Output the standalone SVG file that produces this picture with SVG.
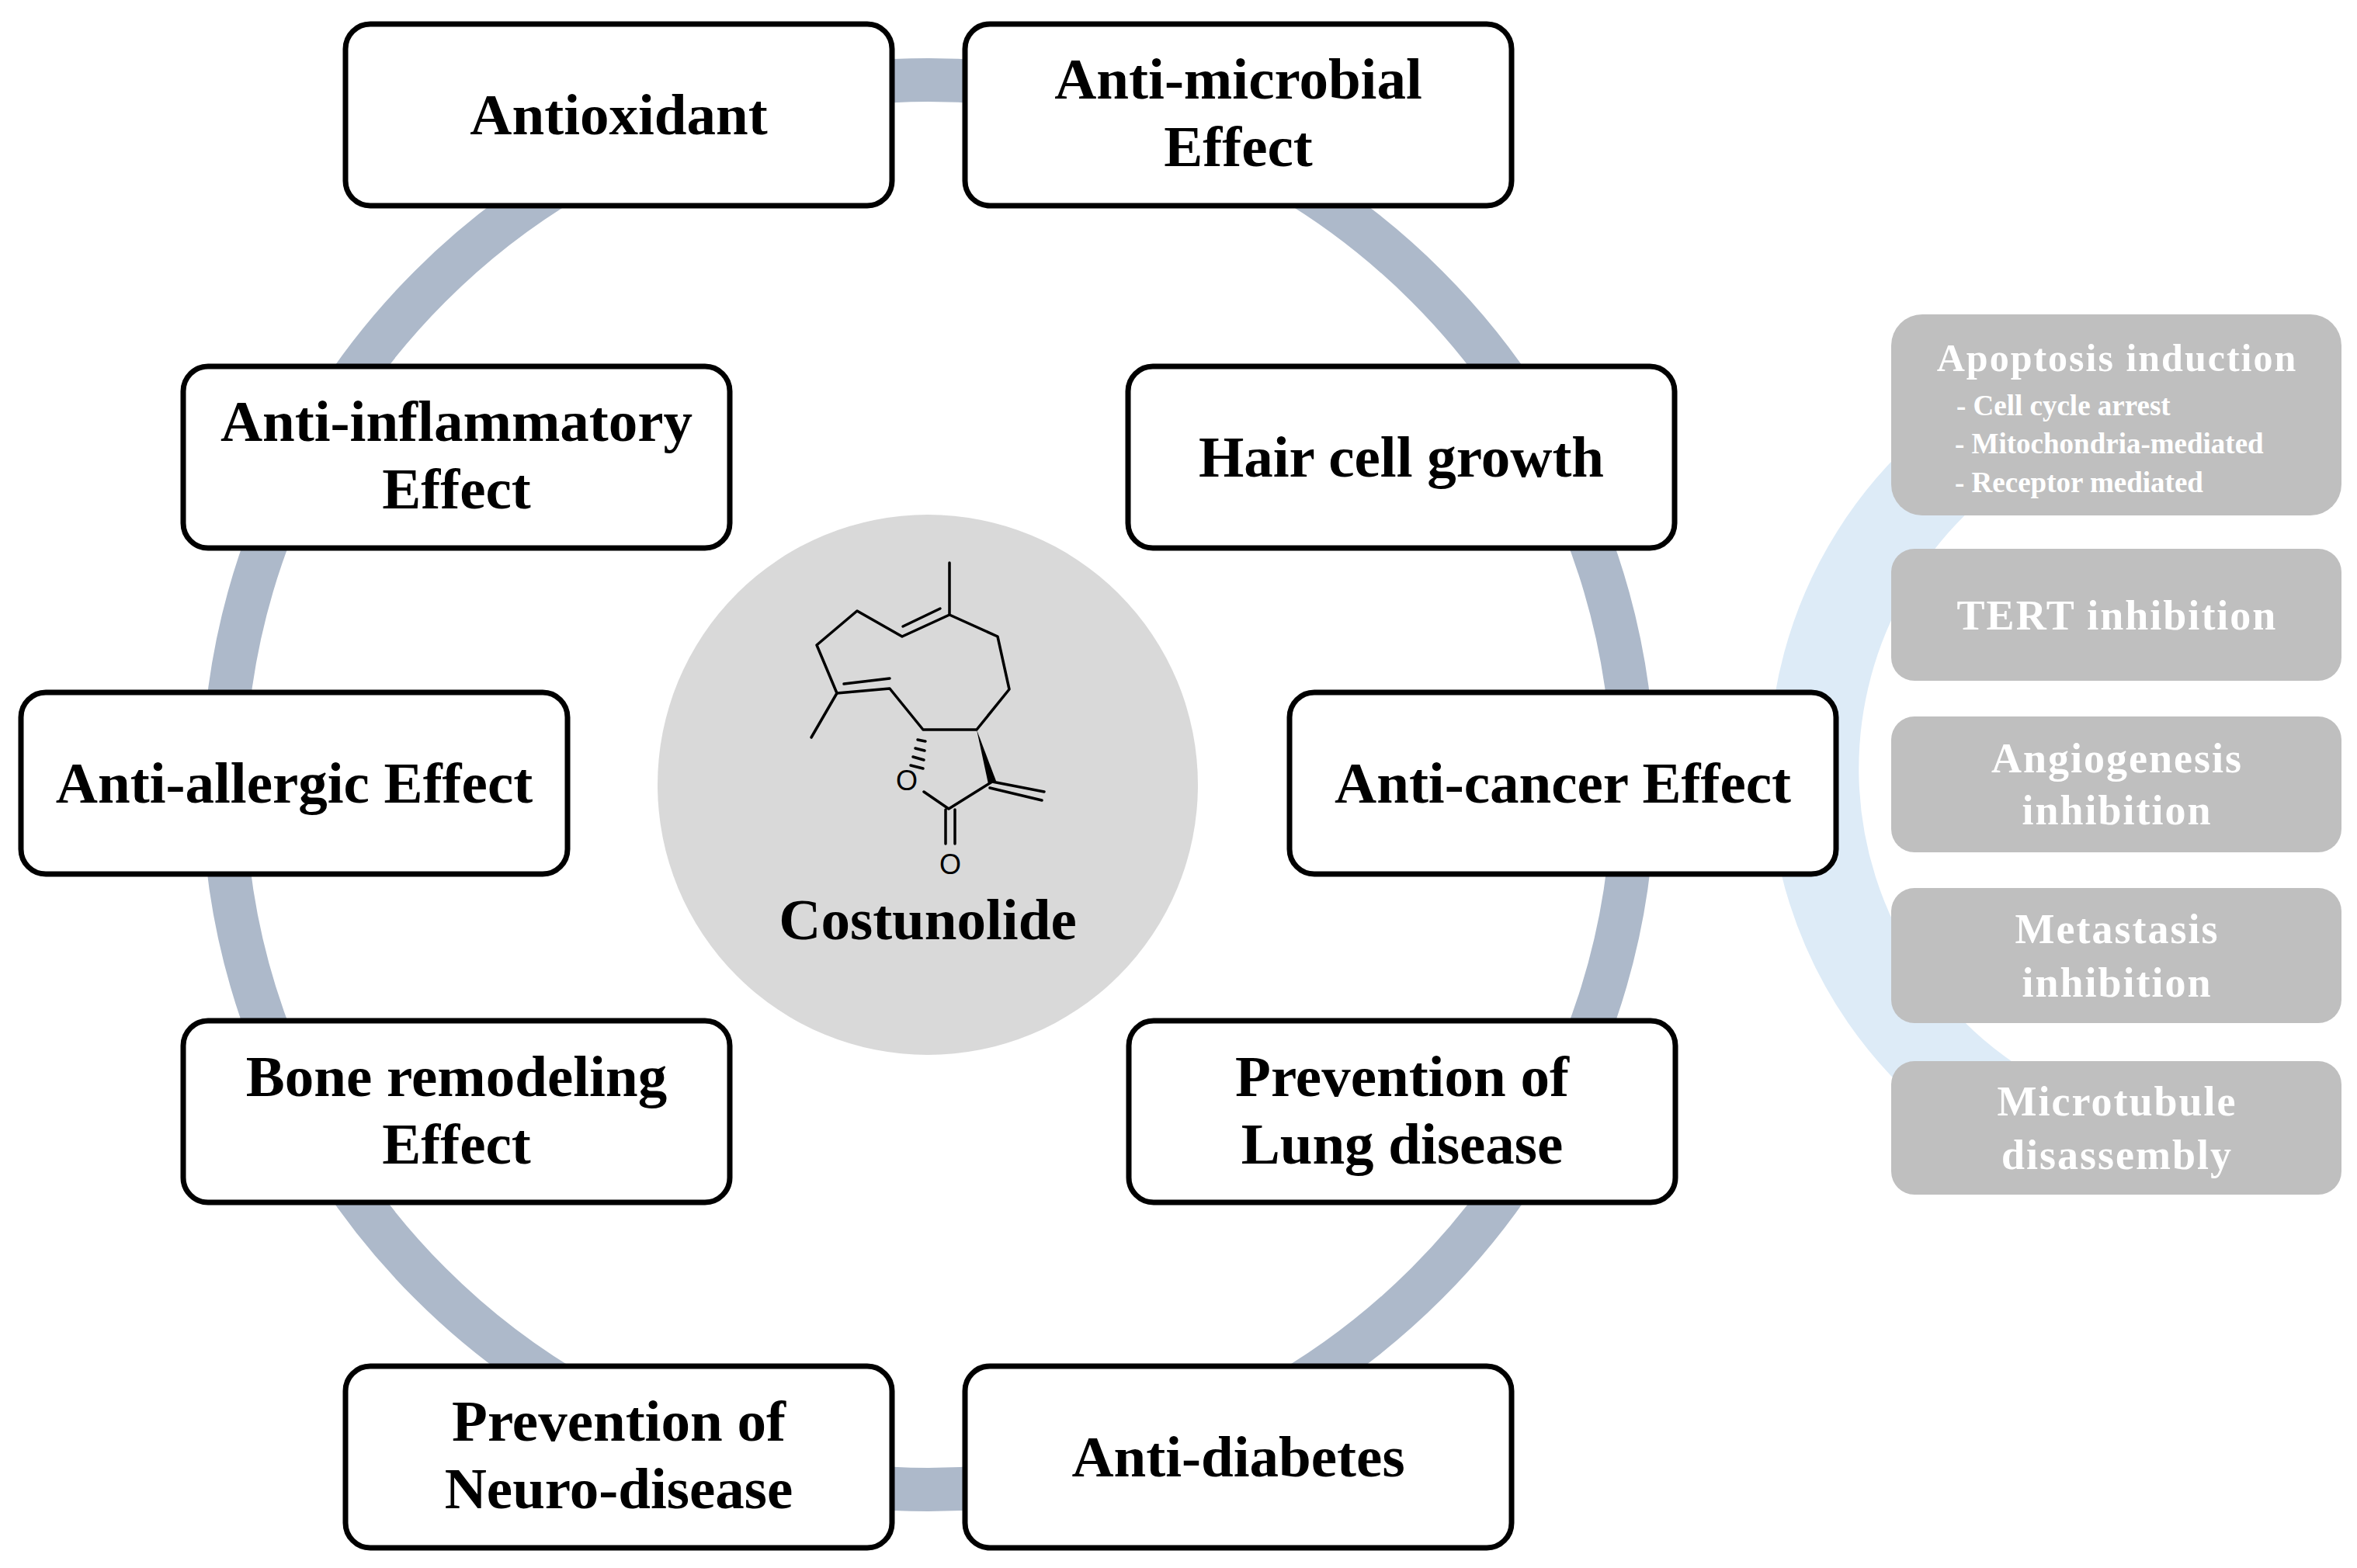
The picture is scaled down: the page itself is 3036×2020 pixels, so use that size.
<svg xmlns="http://www.w3.org/2000/svg" width="3036" height="2020" viewBox="0 0 3036 2020">
<style>
.box{fill:#fff;stroke:#000;stroke-width:7}
.t{font-family:"Liberation Serif",serif;font-weight:bold;font-size:75px;text-anchor:middle;fill:#000}
.g{fill:#bfbfbf}
.w{font-family:"Liberation Serif",serif;font-weight:bold;fill:#fff;text-anchor:middle;font-size:54px;letter-spacing:2px}
.s{font-family:"Liberation Serif",serif;font-weight:bold;fill:#fff;font-size:37px}
.m{stroke:#000;stroke-width:3.5;fill:none;stroke-linecap:round;stroke-linejoin:round}
</style>
<rect width="3036" height="2020" fill="#fff"/>
<g id="rings">
<circle cx="1196" cy="1011" r="908" fill="none" stroke="#adb9ca" stroke-width="56"/>
<path d="M2639,520 A517,517 0 0 0 2660,1470" fill="none" stroke="#ddebf7" stroke-width="116"/>
</g>
<g id="center">
<circle cx="1195" cy="1011" r="348" fill="#d9d9d9"/>
<g class="m">
<path d="M1223,725 L1223,792 L1162,820 L1104,787 L1052,831 L1078,893 L1146,887 L1189,940 L1258,940 L1300,888 L1285,820 L1223,792"/>
<path d="M1163,807 L1211,784 M1087,881 L1146,874 M1078,893 L1045,950"/>
<path d="M1190,1020 L1222,1042 L1278,1007 M1218,1043 L1218,1087 M1230,1043 L1230,1087 M1278,1007 L1345,1020 M1275,1015 L1342,1031"/>
<path d="M1182,953 L1192,955 M1179,964 L1191,967 M1176,975 L1190,979 M1173,986 L1189,990"/>
</g>
<polygon points="1258,940 1273,1010 1283,1006" fill="#000"/>
<text x="1168" y="1018" font-family="Liberation Sans,sans-serif" font-size="36" text-anchor="middle">O</text>
<text x="1224" y="1126" font-family="Liberation Sans,sans-serif" font-size="36" text-anchor="middle">O</text>
<text class="t" x="1195" y="1210">Costunolide</text>
</g>
<g id="antioxidant"><rect class="box" x="445" y="31" width="704" height="234" rx="32"/><text class="t" x="797" y="173">Antioxidant</text></g>
<g id="antimicrobial"><rect class="box" x="1243" y="31" width="704" height="234" rx="32"/><text class="t" x="1595" y="127">Anti-microbial</text><text class="t" x="1595" y="214">Effect</text></g>
<g id="antiinflammatory"><rect class="box" x="236" y="472" width="704" height="234" rx="32"/><text class="t" x="588" y="568">Anti-inflammatory</text><text class="t" x="588" y="655">Effect</text></g>
<g id="haircell"><rect class="box" x="1453" y="472" width="704" height="234" rx="32"/><text class="t" x="1805" y="614">Hair cell growth</text></g>
<g id="antiallergic"><rect class="box" x="27" y="892" width="704" height="234" rx="32"/><text class="t" x="379" y="1034">Anti-allergic Effect</text></g>
<g id="anticancer"><rect class="box" x="1661" y="892" width="704" height="234" rx="32"/><text class="t" x="2013" y="1034">Anti-cancer Effect</text></g>
<g id="bone"><rect class="box" x="236" y="1315" width="704" height="234" rx="32"/><text class="t" x="588" y="1412">Bone remodeling</text><text class="t" x="588" y="1499">Effect</text></g>
<g id="lung"><rect class="box" x="1454" y="1315" width="704" height="234" rx="32"/><text class="t" x="1806" y="1412">Prevention of</text><text class="t" x="1806" y="1499">Lung disease</text></g>
<g id="neuro"><rect class="box" x="445" y="1760" width="704" height="234" rx="32"/><text class="t" x="797" y="1856">Prevention of</text><text class="t" x="797" y="1943">Neuro-disease</text></g>
<g id="antidiabetes"><rect class="box" x="1243" y="1760" width="704" height="234" rx="32"/><text class="t" x="1595" y="1902">Anti-diabetes</text></g>
<g id="apoptosis"><rect class="g" x="2436" y="405" width="580" height="259" rx="40"/>
<text class="w" x="2727" y="478" style="font-size:50px">Apoptosis  induction</text>
<text class="s" x="2520" y="535">- Cell cycle arrest</text>
<text class="s" x="2518" y="584">- Mitochondria-mediated</text>
<text class="s" x="2518" y="634">- Receptor mediated</text>
</g>
<g id="tert"><rect class="g" x="2436" y="707" width="580" height="170" rx="30"/><text class="w" x="2727" y="811">TERT  inhibition</text></g>
<g id="angio"><rect class="g" x="2436" y="923" width="580" height="175" rx="30"/><text class="w" x="2727" y="995">Angiogenesis</text><text class="w" x="2727" y="1062">inhibition</text></g>
<g id="meta"><rect class="g" x="2436" y="1144" width="580" height="174" rx="30"/><text class="w" x="2727" y="1215">Metastasis</text><text class="w" x="2727" y="1284">inhibition</text></g>
<g id="micro"><rect class="g" x="2436" y="1367" width="580" height="172" rx="30"/><text class="w" x="2727" y="1437">Microtubule</text><text class="w" x="2727" y="1506">disassembly</text></g>
</svg>
